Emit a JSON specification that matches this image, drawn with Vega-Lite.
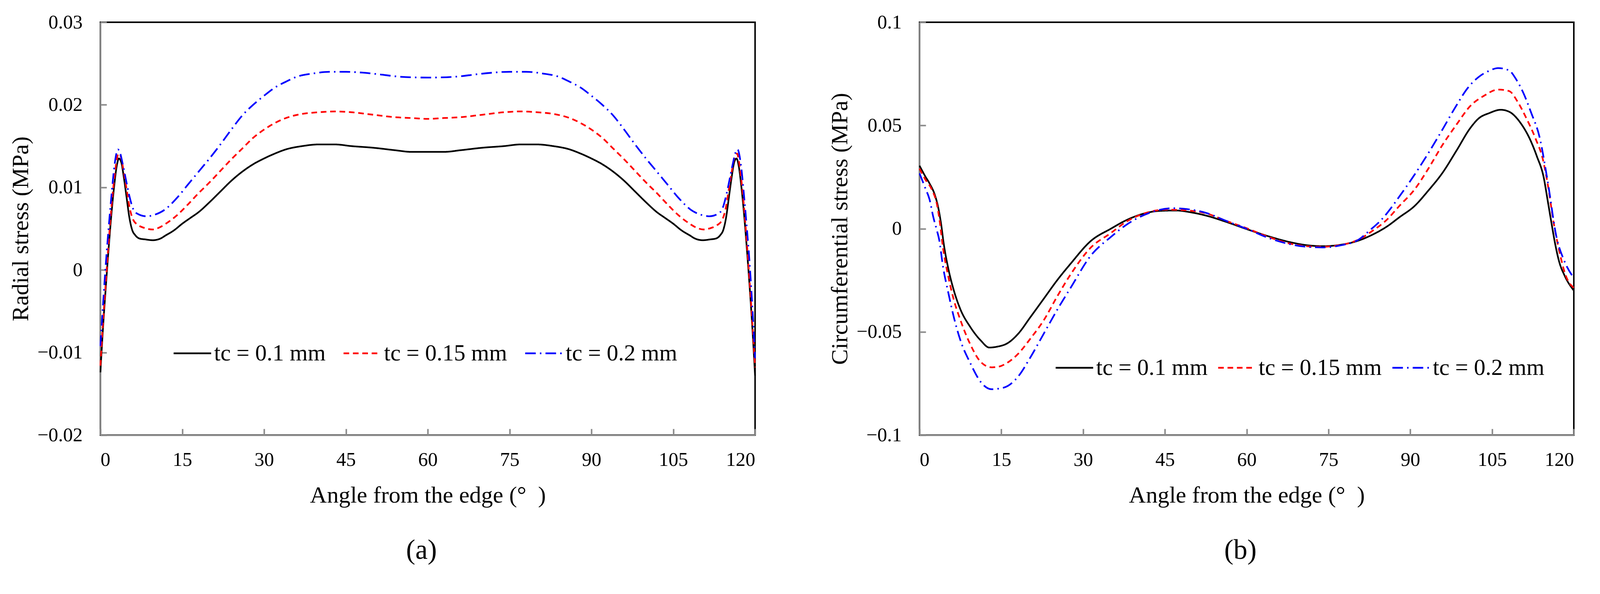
{
  "$schema": "https://vega.github.io/schema/vega-lite/v6.json",
  "background": "white",
  "padding": {"left": 21, "top": 30, "right": 30, "bottom": 19},
  "bounds": "flush",
  "spacing": 421,
  "config": {
    "font": "Liberation Serif",
    "view": {"stroke": "black", "strokeWidth": 3.85},
    "axis": {
      "grid": false,
      "domainColor": "#898989",
      "domainWidth": 3.85,
      "tickColor": "#898989",
      "tickWidth": 3.85,
      "tickSize": -16,
      "labelFont": "Liberation Serif",
      "labelFontSize": 50,
      "labelColor": "black",
      "titleFont": "Liberation Serif",
      "titleFontSize": 60,
      "titleFontWeight": "normal",
      "titleColor": "black"
    },
    "axisX": {"labelPadding": 54, "titlePadding": 37},
    "axisY": {"labelPadding": 62, "titlePadding": 11},
    "legend": {
      "orient": "none",
      "direction": "horizontal",
      "title": null,
      "padding": 0,
      "symbolType": "stroke",
      "symbolSize": 9216,
      "symbolStrokeWidth": 4.3,
      "labelFont": "Liberation Serif",
      "labelFontSize": 59,
      "labelColor": "black",
      "labelOffset": 5,
      "labelLimit": 1000
    },
    "title": {"font": "Liberation Serif", "fontSize": 71, "fontWeight": "normal", "color": "black"}
  },
  "datasets": {
    "radial": [
      {"tc": "tc = 0.1 mm", "angle": 0, "stress": -0.0124},
      {"tc": "tc = 0.1 mm", "angle": 0.5, "stress": -0.0068},
      {"tc": "tc = 0.1 mm", "angle": 1, "stress": -0.002},
      {"tc": "tc = 0.1 mm", "angle": 1.5, "stress": 0.0025},
      {"tc": "tc = 0.1 mm", "angle": 2, "stress": 0.0066},
      {"tc": "tc = 0.1 mm", "angle": 2.5, "stress": 0.01},
      {"tc": "tc = 0.1 mm", "angle": 3, "stress": 0.0126},
      {"tc": "tc = 0.1 mm", "angle": 3.4, "stress": 0.0135},
      {"tc": "tc = 0.1 mm", "angle": 3.8, "stress": 0.0131},
      {"tc": "tc = 0.1 mm", "angle": 4.3, "stress": 0.0112},
      {"tc": "tc = 0.1 mm", "angle": 4.8, "stress": 0.0088},
      {"tc": "tc = 0.1 mm", "angle": 5.3, "stress": 0.0064},
      {"tc": "tc = 0.1 mm", "angle": 5.8, "stress": 0.0049},
      {"tc": "tc = 0.1 mm", "angle": 6.4, "stress": 0.0042},
      {"tc": "tc = 0.1 mm", "angle": 7.2, "stress": 0.0038},
      {"tc": "tc = 0.1 mm", "angle": 8.2, "stress": 0.0037},
      {"tc": "tc = 0.1 mm", "angle": 9.6, "stress": 0.0036},
      {"tc": "tc = 0.1 mm", "angle": 11, "stress": 0.0038},
      {"tc": "tc = 0.1 mm", "angle": 12, "stress": 0.0042},
      {"tc": "tc = 0.1 mm", "angle": 13.5, "stress": 0.0048},
      {"tc": "tc = 0.1 mm", "angle": 15, "stress": 0.0056},
      {"tc": "tc = 0.1 mm", "angle": 16.5, "stress": 0.0063},
      {"tc": "tc = 0.1 mm", "angle": 18, "stress": 0.007},
      {"tc": "tc = 0.1 mm", "angle": 20, "stress": 0.0082},
      {"tc": "tc = 0.1 mm", "angle": 22, "stress": 0.0095},
      {"tc": "tc = 0.1 mm", "angle": 24, "stress": 0.0108},
      {"tc": "tc = 0.1 mm", "angle": 26, "stress": 0.0119},
      {"tc": "tc = 0.1 mm", "angle": 28, "stress": 0.0128},
      {"tc": "tc = 0.1 mm", "angle": 30, "stress": 0.0135},
      {"tc": "tc = 0.1 mm", "angle": 32, "stress": 0.0141},
      {"tc": "tc = 0.1 mm", "angle": 34, "stress": 0.0146},
      {"tc": "tc = 0.1 mm", "angle": 37, "stress": 0.015},
      {"tc": "tc = 0.1 mm", "angle": 40, "stress": 0.0152},
      {"tc": "tc = 0.1 mm", "angle": 43, "stress": 0.0152},
      {"tc": "tc = 0.1 mm", "angle": 46, "stress": 0.015},
      {"tc": "tc = 0.1 mm", "angle": 50, "stress": 0.0148},
      {"tc": "tc = 0.1 mm", "angle": 54, "stress": 0.0145},
      {"tc": "tc = 0.1 mm", "angle": 57, "stress": 0.0143},
      {"tc": "tc = 0.1 mm", "angle": 60, "stress": 0.0143},
      {"tc": "tc = 0.1 mm", "angle": 63, "stress": 0.0143},
      {"tc": "tc = 0.1 mm", "angle": 66, "stress": 0.0145},
      {"tc": "tc = 0.1 mm", "angle": 70, "stress": 0.0148},
      {"tc": "tc = 0.1 mm", "angle": 74, "stress": 0.015},
      {"tc": "tc = 0.1 mm", "angle": 77, "stress": 0.0152},
      {"tc": "tc = 0.1 mm", "angle": 80, "stress": 0.0152},
      {"tc": "tc = 0.1 mm", "angle": 83, "stress": 0.015},
      {"tc": "tc = 0.1 mm", "angle": 86, "stress": 0.0146},
      {"tc": "tc = 0.1 mm", "angle": 88, "stress": 0.0141},
      {"tc": "tc = 0.1 mm", "angle": 90, "stress": 0.0135},
      {"tc": "tc = 0.1 mm", "angle": 92, "stress": 0.0128},
      {"tc": "tc = 0.1 mm", "angle": 94, "stress": 0.0119},
      {"tc": "tc = 0.1 mm", "angle": 96, "stress": 0.0108},
      {"tc": "tc = 0.1 mm", "angle": 98, "stress": 0.0095},
      {"tc": "tc = 0.1 mm", "angle": 100, "stress": 0.0082},
      {"tc": "tc = 0.1 mm", "angle": 102, "stress": 0.007},
      {"tc": "tc = 0.1 mm", "angle": 103.5, "stress": 0.0063},
      {"tc": "tc = 0.1 mm", "angle": 105, "stress": 0.0056},
      {"tc": "tc = 0.1 mm", "angle": 106.5, "stress": 0.0048},
      {"tc": "tc = 0.1 mm", "angle": 108, "stress": 0.0042},
      {"tc": "tc = 0.1 mm", "angle": 109, "stress": 0.0038},
      {"tc": "tc = 0.1 mm", "angle": 110.4, "stress": 0.0036},
      {"tc": "tc = 0.1 mm", "angle": 111.8, "stress": 0.0037},
      {"tc": "tc = 0.1 mm", "angle": 112.8, "stress": 0.0038},
      {"tc": "tc = 0.1 mm", "angle": 113.6, "stress": 0.0042},
      {"tc": "tc = 0.1 mm", "angle": 114.2, "stress": 0.0049},
      {"tc": "tc = 0.1 mm", "angle": 114.7, "stress": 0.0064},
      {"tc": "tc = 0.1 mm", "angle": 115.2, "stress": 0.0088},
      {"tc": "tc = 0.1 mm", "angle": 115.7, "stress": 0.0112},
      {"tc": "tc = 0.1 mm", "angle": 116.2, "stress": 0.0131},
      {"tc": "tc = 0.1 mm", "angle": 116.6, "stress": 0.0135},
      {"tc": "tc = 0.1 mm", "angle": 117, "stress": 0.0126},
      {"tc": "tc = 0.1 mm", "angle": 117.5, "stress": 0.01},
      {"tc": "tc = 0.1 mm", "angle": 118, "stress": 0.0066},
      {"tc": "tc = 0.1 mm", "angle": 118.5, "stress": 0.0025},
      {"tc": "tc = 0.1 mm", "angle": 119, "stress": -0.002},
      {"tc": "tc = 0.1 mm", "angle": 119.5, "stress": -0.007},
      {"tc": "tc = 0.1 mm", "angle": 120, "stress": -0.0128},
      {"tc": "tc = 0.15 mm", "angle": 0, "stress": -0.0116},
      {"tc": "tc = 0.15 mm", "angle": 0.5, "stress": -0.0062},
      {"tc": "tc = 0.15 mm", "angle": 1, "stress": -0.0014},
      {"tc": "tc = 0.15 mm", "angle": 1.5, "stress": 0.0032},
      {"tc": "tc = 0.15 mm", "angle": 2, "stress": 0.0074},
      {"tc": "tc = 0.15 mm", "angle": 2.5, "stress": 0.0108},
      {"tc": "tc = 0.15 mm", "angle": 3, "stress": 0.0133},
      {"tc": "tc = 0.15 mm", "angle": 3.3, "stress": 0.0141},
      {"tc": "tc = 0.15 mm", "angle": 3.7, "stress": 0.0138},
      {"tc": "tc = 0.15 mm", "angle": 4.2, "stress": 0.0122},
      {"tc": "tc = 0.15 mm", "angle": 4.8, "stress": 0.0098},
      {"tc": "tc = 0.15 mm", "angle": 5.4, "stress": 0.0074},
      {"tc": "tc = 0.15 mm", "angle": 6, "stress": 0.0061},
      {"tc": "tc = 0.15 mm", "angle": 7, "stress": 0.0054},
      {"tc": "tc = 0.15 mm", "angle": 8, "stress": 0.0051},
      {"tc": "tc = 0.15 mm", "angle": 9.5, "stress": 0.0049},
      {"tc": "tc = 0.15 mm", "angle": 11, "stress": 0.0052},
      {"tc": "tc = 0.15 mm", "angle": 12, "stress": 0.0056},
      {"tc": "tc = 0.15 mm", "angle": 14, "stress": 0.0066},
      {"tc": "tc = 0.15 mm", "angle": 16, "stress": 0.0079},
      {"tc": "tc = 0.15 mm", "angle": 18, "stress": 0.0093},
      {"tc": "tc = 0.15 mm", "angle": 20, "stress": 0.0106},
      {"tc": "tc = 0.15 mm", "angle": 22, "stress": 0.012},
      {"tc": "tc = 0.15 mm", "angle": 24, "stress": 0.0134},
      {"tc": "tc = 0.15 mm", "angle": 26, "stress": 0.0147},
      {"tc": "tc = 0.15 mm", "angle": 28, "stress": 0.016},
      {"tc": "tc = 0.15 mm", "angle": 30, "stress": 0.017},
      {"tc": "tc = 0.15 mm", "angle": 32, "stress": 0.0178},
      {"tc": "tc = 0.15 mm", "angle": 34, "stress": 0.0184},
      {"tc": "tc = 0.15 mm", "angle": 37, "stress": 0.0189},
      {"tc": "tc = 0.15 mm", "angle": 40, "stress": 0.0191},
      {"tc": "tc = 0.15 mm", "angle": 43, "stress": 0.0192},
      {"tc": "tc = 0.15 mm", "angle": 46, "stress": 0.0191},
      {"tc": "tc = 0.15 mm", "angle": 50, "stress": 0.0188},
      {"tc": "tc = 0.15 mm", "angle": 54, "stress": 0.0185},
      {"tc": "tc = 0.15 mm", "angle": 57, "stress": 0.0184},
      {"tc": "tc = 0.15 mm", "angle": 60, "stress": 0.0183},
      {"tc": "tc = 0.15 mm", "angle": 63, "stress": 0.0184},
      {"tc": "tc = 0.15 mm", "angle": 66, "stress": 0.0185},
      {"tc": "tc = 0.15 mm", "angle": 70, "stress": 0.0188},
      {"tc": "tc = 0.15 mm", "angle": 74, "stress": 0.0191},
      {"tc": "tc = 0.15 mm", "angle": 77, "stress": 0.0192},
      {"tc": "tc = 0.15 mm", "angle": 80, "stress": 0.0191},
      {"tc": "tc = 0.15 mm", "angle": 83, "stress": 0.0189},
      {"tc": "tc = 0.15 mm", "angle": 86, "stress": 0.0184},
      {"tc": "tc = 0.15 mm", "angle": 88, "stress": 0.0178},
      {"tc": "tc = 0.15 mm", "angle": 90, "stress": 0.017},
      {"tc": "tc = 0.15 mm", "angle": 92, "stress": 0.016},
      {"tc": "tc = 0.15 mm", "angle": 94, "stress": 0.0147},
      {"tc": "tc = 0.15 mm", "angle": 96, "stress": 0.0134},
      {"tc": "tc = 0.15 mm", "angle": 98, "stress": 0.012},
      {"tc": "tc = 0.15 mm", "angle": 100, "stress": 0.0106},
      {"tc": "tc = 0.15 mm", "angle": 102, "stress": 0.0093},
      {"tc": "tc = 0.15 mm", "angle": 104, "stress": 0.0079},
      {"tc": "tc = 0.15 mm", "angle": 106, "stress": 0.0066},
      {"tc": "tc = 0.15 mm", "angle": 108, "stress": 0.0056},
      {"tc": "tc = 0.15 mm", "angle": 109, "stress": 0.0052},
      {"tc": "tc = 0.15 mm", "angle": 110.5, "stress": 0.0049},
      {"tc": "tc = 0.15 mm", "angle": 112, "stress": 0.0051},
      {"tc": "tc = 0.15 mm", "angle": 113, "stress": 0.0054},
      {"tc": "tc = 0.15 mm", "angle": 114, "stress": 0.0061},
      {"tc": "tc = 0.15 mm", "angle": 114.6, "stress": 0.0074},
      {"tc": "tc = 0.15 mm", "angle": 115.2, "stress": 0.0098},
      {"tc": "tc = 0.15 mm", "angle": 115.8, "stress": 0.0122},
      {"tc": "tc = 0.15 mm", "angle": 116.3, "stress": 0.0138},
      {"tc": "tc = 0.15 mm", "angle": 116.7, "stress": 0.0141},
      {"tc": "tc = 0.15 mm", "angle": 117, "stress": 0.0133},
      {"tc": "tc = 0.15 mm", "angle": 117.5, "stress": 0.0108},
      {"tc": "tc = 0.15 mm", "angle": 118, "stress": 0.0074},
      {"tc": "tc = 0.15 mm", "angle": 118.5, "stress": 0.0032},
      {"tc": "tc = 0.15 mm", "angle": 119, "stress": -0.0014},
      {"tc": "tc = 0.15 mm", "angle": 119.5, "stress": -0.0064},
      {"tc": "tc = 0.15 mm", "angle": 120, "stress": -0.0118},
      {"tc": "tc = 0.2 mm", "angle": 0, "stress": -0.0092},
      {"tc": "tc = 0.2 mm", "angle": 0.5, "stress": -0.004},
      {"tc": "tc = 0.2 mm", "angle": 1, "stress": 0.0008},
      {"tc": "tc = 0.2 mm", "angle": 1.5, "stress": 0.005},
      {"tc": "tc = 0.2 mm", "angle": 2, "stress": 0.0088},
      {"tc": "tc = 0.2 mm", "angle": 2.5, "stress": 0.0122},
      {"tc": "tc = 0.2 mm", "angle": 2.9, "stress": 0.014},
      {"tc": "tc = 0.2 mm", "angle": 3.2, "stress": 0.0146},
      {"tc": "tc = 0.2 mm", "angle": 3.6, "stress": 0.0142},
      {"tc": "tc = 0.2 mm", "angle": 4.1, "stress": 0.0128},
      {"tc": "tc = 0.2 mm", "angle": 4.6, "stress": 0.0112},
      {"tc": "tc = 0.2 mm", "angle": 5.3, "stress": 0.009},
      {"tc": "tc = 0.2 mm", "angle": 6, "stress": 0.0074},
      {"tc": "tc = 0.2 mm", "angle": 6.8, "stress": 0.0068},
      {"tc": "tc = 0.2 mm", "angle": 8.4, "stress": 0.0065},
      {"tc": "tc = 0.2 mm", "angle": 10, "stress": 0.0067},
      {"tc": "tc = 0.2 mm", "angle": 11.8, "stress": 0.0073},
      {"tc": "tc = 0.2 mm", "angle": 14, "stress": 0.0087},
      {"tc": "tc = 0.2 mm", "angle": 16, "stress": 0.0103},
      {"tc": "tc = 0.2 mm", "angle": 18, "stress": 0.0119},
      {"tc": "tc = 0.2 mm", "angle": 20, "stress": 0.0135},
      {"tc": "tc = 0.2 mm", "angle": 22, "stress": 0.0152},
      {"tc": "tc = 0.2 mm", "angle": 24, "stress": 0.017},
      {"tc": "tc = 0.2 mm", "angle": 26, "stress": 0.0187},
      {"tc": "tc = 0.2 mm", "angle": 28, "stress": 0.02},
      {"tc": "tc = 0.2 mm", "angle": 30, "stress": 0.0211},
      {"tc": "tc = 0.2 mm", "angle": 32, "stress": 0.0221},
      {"tc": "tc = 0.2 mm", "angle": 34, "stress": 0.0228},
      {"tc": "tc = 0.2 mm", "angle": 36, "stress": 0.0234},
      {"tc": "tc = 0.2 mm", "angle": 39, "stress": 0.0238},
      {"tc": "tc = 0.2 mm", "angle": 42, "stress": 0.024},
      {"tc": "tc = 0.2 mm", "angle": 45, "stress": 0.024},
      {"tc": "tc = 0.2 mm", "angle": 48, "stress": 0.0239},
      {"tc": "tc = 0.2 mm", "angle": 51, "stress": 0.0237},
      {"tc": "tc = 0.2 mm", "angle": 55, "stress": 0.0234},
      {"tc": "tc = 0.2 mm", "angle": 60, "stress": 0.0233},
      {"tc": "tc = 0.2 mm", "angle": 65, "stress": 0.0234},
      {"tc": "tc = 0.2 mm", "angle": 69, "stress": 0.0237},
      {"tc": "tc = 0.2 mm", "angle": 72, "stress": 0.0239},
      {"tc": "tc = 0.2 mm", "angle": 75, "stress": 0.024},
      {"tc": "tc = 0.2 mm", "angle": 78, "stress": 0.024},
      {"tc": "tc = 0.2 mm", "angle": 81, "stress": 0.0238},
      {"tc": "tc = 0.2 mm", "angle": 84, "stress": 0.0234},
      {"tc": "tc = 0.2 mm", "angle": 86, "stress": 0.0228},
      {"tc": "tc = 0.2 mm", "angle": 88, "stress": 0.0221},
      {"tc": "tc = 0.2 mm", "angle": 90, "stress": 0.0211},
      {"tc": "tc = 0.2 mm", "angle": 92, "stress": 0.02},
      {"tc": "tc = 0.2 mm", "angle": 94, "stress": 0.0187},
      {"tc": "tc = 0.2 mm", "angle": 96, "stress": 0.017},
      {"tc": "tc = 0.2 mm", "angle": 98, "stress": 0.0152},
      {"tc": "tc = 0.2 mm", "angle": 100, "stress": 0.0135},
      {"tc": "tc = 0.2 mm", "angle": 102, "stress": 0.0119},
      {"tc": "tc = 0.2 mm", "angle": 104, "stress": 0.0103},
      {"tc": "tc = 0.2 mm", "angle": 106, "stress": 0.0087},
      {"tc": "tc = 0.2 mm", "angle": 108.2, "stress": 0.0073},
      {"tc": "tc = 0.2 mm", "angle": 110, "stress": 0.0067},
      {"tc": "tc = 0.2 mm", "angle": 111.6, "stress": 0.0065},
      {"tc": "tc = 0.2 mm", "angle": 113.2, "stress": 0.0068},
      {"tc": "tc = 0.2 mm", "angle": 114, "stress": 0.0074},
      {"tc": "tc = 0.2 mm", "angle": 114.7, "stress": 0.009},
      {"tc": "tc = 0.2 mm", "angle": 115.4, "stress": 0.0112},
      {"tc": "tc = 0.2 mm", "angle": 115.9, "stress": 0.0128},
      {"tc": "tc = 0.2 mm", "angle": 116.4, "stress": 0.0142},
      {"tc": "tc = 0.2 mm", "angle": 116.8, "stress": 0.0146},
      {"tc": "tc = 0.2 mm", "angle": 117.1, "stress": 0.014},
      {"tc": "tc = 0.2 mm", "angle": 117.5, "stress": 0.0122},
      {"tc": "tc = 0.2 mm", "angle": 118, "stress": 0.0088},
      {"tc": "tc = 0.2 mm", "angle": 118.5, "stress": 0.005},
      {"tc": "tc = 0.2 mm", "angle": 119, "stress": 0.0008},
      {"tc": "tc = 0.2 mm", "angle": 119.5, "stress": -0.0045},
      {"tc": "tc = 0.2 mm", "angle": 120, "stress": -0.0107}
    ],
    "circ": [
      {"tc": "tc = 0.1 mm", "angle": 0, "stress": 0.0305},
      {"tc": "tc = 0.1 mm", "angle": 1, "stress": 0.0256},
      {"tc": "tc = 0.1 mm", "angle": 1.9, "stress": 0.0216},
      {"tc": "tc = 0.1 mm", "angle": 2.8, "stress": 0.0164},
      {"tc": "tc = 0.1 mm", "angle": 3.4, "stress": 0.0106},
      {"tc": "tc = 0.1 mm", "angle": 4, "stress": 0.0015},
      {"tc": "tc = 0.1 mm", "angle": 4.4, "stress": -0.0066},
      {"tc": "tc = 0.1 mm", "angle": 5.3, "stress": -0.0196},
      {"tc": "tc = 0.1 mm", "angle": 6.3, "stress": -0.03},
      {"tc": "tc = 0.1 mm", "angle": 7.5, "stress": -0.0391},
      {"tc": "tc = 0.1 mm", "angle": 9.3, "stress": -0.0476},
      {"tc": "tc = 0.1 mm", "angle": 11.2, "stress": -0.0541},
      {"tc": "tc = 0.1 mm", "angle": 12.8, "stress": -0.0576},
      {"tc": "tc = 0.1 mm", "angle": 14.2, "stress": -0.0572},
      {"tc": "tc = 0.1 mm", "angle": 16.2, "stress": -0.0554},
      {"tc": "tc = 0.1 mm", "angle": 18.1, "stress": -0.0509},
      {"tc": "tc = 0.1 mm", "angle": 20.3, "stress": -0.043},
      {"tc": "tc = 0.1 mm", "angle": 22.8, "stress": -0.0339},
      {"tc": "tc = 0.1 mm", "angle": 25.3, "stress": -0.0248},
      {"tc": "tc = 0.1 mm", "angle": 27.7, "stress": -0.017},
      {"tc": "tc = 0.1 mm", "angle": 31.4, "stress": -0.006},
      {"tc": "tc = 0.1 mm", "angle": 35.1, "stress": 0},
      {"tc": "tc = 0.1 mm", "angle": 38, "stress": 0.0042},
      {"tc": "tc = 0.1 mm", "angle": 41, "stress": 0.0072},
      {"tc": "tc = 0.1 mm", "angle": 44, "stress": 0.0086},
      {"tc": "tc = 0.1 mm", "angle": 47, "stress": 0.0088},
      {"tc": "tc = 0.1 mm", "angle": 50, "stress": 0.0078},
      {"tc": "tc = 0.1 mm", "angle": 52.6, "stress": 0.0063},
      {"tc": "tc = 0.1 mm", "angle": 56, "stress": 0.0035},
      {"tc": "tc = 0.1 mm", "angle": 60.2, "stress": -0.0004},
      {"tc": "tc = 0.1 mm", "angle": 64, "stress": -0.0037},
      {"tc": "tc = 0.1 mm", "angle": 67.9, "stress": -0.0065},
      {"tc": "tc = 0.1 mm", "angle": 71, "stress": -0.008},
      {"tc": "tc = 0.1 mm", "angle": 74, "stress": -0.0085},
      {"tc": "tc = 0.1 mm", "angle": 77, "stress": -0.0079},
      {"tc": "tc = 0.1 mm", "angle": 80.6, "stress": -0.0057},
      {"tc": "tc = 0.1 mm", "angle": 83, "stress": -0.003},
      {"tc": "tc = 0.1 mm", "angle": 85.7, "stress": 0.001},
      {"tc": "tc = 0.1 mm", "angle": 88, "stress": 0.0055},
      {"tc": "tc = 0.1 mm", "angle": 90.8, "stress": 0.011},
      {"tc": "tc = 0.1 mm", "angle": 93.3, "stress": 0.0184},
      {"tc": "tc = 0.1 mm", "angle": 95.9, "stress": 0.027},
      {"tc": "tc = 0.1 mm", "angle": 98.5, "stress": 0.0379},
      {"tc": "tc = 0.1 mm", "angle": 101, "stress": 0.0487},
      {"tc": "tc = 0.1 mm", "angle": 102.5, "stress": 0.0533},
      {"tc": "tc = 0.1 mm", "angle": 104.5, "stress": 0.056},
      {"tc": "tc = 0.1 mm", "angle": 106.6, "stress": 0.0576},
      {"tc": "tc = 0.1 mm", "angle": 108.1, "stress": 0.0567},
      {"tc": "tc = 0.1 mm", "angle": 110.2, "stress": 0.0513},
      {"tc": "tc = 0.1 mm", "angle": 112.2, "stress": 0.0419},
      {"tc": "tc = 0.1 mm", "angle": 113.2, "stress": 0.0352},
      {"tc": "tc = 0.1 mm", "angle": 114.5, "stress": 0.0245},
      {"tc": "tc = 0.1 mm", "angle": 115.2, "stress": 0.0137},
      {"tc": "tc = 0.1 mm", "angle": 115.8, "stress": 0.0043},
      {"tc": "tc = 0.1 mm", "angle": 116.6, "stress": -0.0077},
      {"tc": "tc = 0.1 mm", "angle": 117.3, "stress": -0.0159},
      {"tc": "tc = 0.1 mm", "angle": 118.3, "stress": -0.0227},
      {"tc": "tc = 0.1 mm", "angle": 120, "stress": -0.03},
      {"tc": "tc = 0.15 mm", "angle": 0, "stress": 0.0291},
      {"tc": "tc = 0.15 mm", "angle": 1, "stress": 0.0241},
      {"tc": "tc = 0.15 mm", "angle": 2.3, "stress": 0.0187},
      {"tc": "tc = 0.15 mm", "angle": 3.2, "stress": 0.0117},
      {"tc": "tc = 0.15 mm", "angle": 3.7, "stress": 0.0036},
      {"tc": "tc = 0.15 mm", "angle": 4.3, "stress": -0.0092},
      {"tc": "tc = 0.15 mm", "angle": 5.3, "stress": -0.0235},
      {"tc": "tc = 0.15 mm", "angle": 6.3, "stress": -0.0346},
      {"tc": "tc = 0.15 mm", "angle": 7.5, "stress": -0.0443},
      {"tc": "tc = 0.15 mm", "angle": 9.3, "stress": -0.056},
      {"tc": "tc = 0.15 mm", "angle": 11.2, "stress": -0.0645},
      {"tc": "tc = 0.15 mm", "angle": 13.2, "stress": -0.0672},
      {"tc": "tc = 0.15 mm", "angle": 14.6, "stress": -0.0668},
      {"tc": "tc = 0.15 mm", "angle": 16.2, "stress": -0.0648},
      {"tc": "tc = 0.15 mm", "angle": 18.1, "stress": -0.0606},
      {"tc": "tc = 0.15 mm", "angle": 20.3, "stress": -0.0534},
      {"tc": "tc = 0.15 mm", "angle": 22.8, "stress": -0.0443},
      {"tc": "tc = 0.15 mm", "angle": 25.3, "stress": -0.0326},
      {"tc": "tc = 0.15 mm", "angle": 27.7, "stress": -0.0222},
      {"tc": "tc = 0.15 mm", "angle": 31.4, "stress": -0.0092},
      {"tc": "tc = 0.15 mm", "angle": 35.1, "stress": -0.0021},
      {"tc": "tc = 0.15 mm", "angle": 38, "stress": 0.0035},
      {"tc": "tc = 0.15 mm", "angle": 42, "stress": 0.008},
      {"tc": "tc = 0.15 mm", "angle": 45, "stress": 0.0092},
      {"tc": "tc = 0.15 mm", "angle": 48, "stress": 0.009},
      {"tc": "tc = 0.15 mm", "angle": 52.6, "stress": 0.0074},
      {"tc": "tc = 0.15 mm", "angle": 56, "stress": 0.004},
      {"tc": "tc = 0.15 mm", "angle": 60.2, "stress": 0},
      {"tc": "tc = 0.15 mm", "angle": 64, "stress": -0.004},
      {"tc": "tc = 0.15 mm", "angle": 67.9, "stress": -0.0072},
      {"tc": "tc = 0.15 mm", "angle": 71, "stress": -0.0085},
      {"tc": "tc = 0.15 mm", "angle": 73.5, "stress": -0.0088},
      {"tc": "tc = 0.15 mm", "angle": 77, "stress": -0.008},
      {"tc": "tc = 0.15 mm", "angle": 80.6, "stress": -0.0052},
      {"tc": "tc = 0.15 mm", "angle": 83, "stress": -0.0012},
      {"tc": "tc = 0.15 mm", "angle": 85.7, "stress": 0.0043},
      {"tc": "tc = 0.15 mm", "angle": 88, "stress": 0.011},
      {"tc": "tc = 0.15 mm", "angle": 90.8, "stress": 0.019},
      {"tc": "tc = 0.15 mm", "angle": 93.3, "stress": 0.029},
      {"tc": "tc = 0.15 mm", "angle": 95.9, "stress": 0.0405},
      {"tc": "tc = 0.15 mm", "angle": 98.5, "stress": 0.0505},
      {"tc": "tc = 0.15 mm", "angle": 101, "stress": 0.0594},
      {"tc": "tc = 0.15 mm", "angle": 103.6, "stress": 0.0645},
      {"tc": "tc = 0.15 mm", "angle": 106.1, "stress": 0.0674},
      {"tc": "tc = 0.15 mm", "angle": 108.1, "stress": 0.0667},
      {"tc": "tc = 0.15 mm", "angle": 109.8, "stress": 0.061},
      {"tc": "tc = 0.15 mm", "angle": 111.2, "stress": 0.054},
      {"tc": "tc = 0.15 mm", "angle": 113, "stress": 0.0435},
      {"tc": "tc = 0.15 mm", "angle": 114.3, "stress": 0.0338},
      {"tc": "tc = 0.15 mm", "angle": 115.2, "stress": 0.0217},
      {"tc": "tc = 0.15 mm", "angle": 116.3, "stress": 0.0029},
      {"tc": "tc = 0.15 mm", "angle": 117.3, "stress": -0.0105},
      {"tc": "tc = 0.15 mm", "angle": 118.5, "stress": -0.0226},
      {"tc": "tc = 0.15 mm", "angle": 120, "stress": -0.0287},
      {"tc": "tc = 0.2 mm", "angle": 0, "stress": 0.0268},
      {"tc": "tc = 0.2 mm", "angle": 1, "stress": 0.02},
      {"tc": "tc = 0.2 mm", "angle": 1.9, "stress": 0.0135},
      {"tc": "tc = 0.2 mm", "angle": 2.5, "stress": 0.0059},
      {"tc": "tc = 0.2 mm", "angle": 3.2, "stress": -0.001},
      {"tc": "tc = 0.2 mm", "angle": 3.6, "stress": -0.0053},
      {"tc": "tc = 0.2 mm", "angle": 4.3, "stress": -0.0183},
      {"tc": "tc = 0.2 mm", "angle": 5.3, "stress": -0.0313},
      {"tc": "tc = 0.2 mm", "angle": 6.3, "stress": -0.043},
      {"tc": "tc = 0.2 mm", "angle": 7.5, "stress": -0.0541},
      {"tc": "tc = 0.2 mm", "angle": 9.3, "stress": -0.0651},
      {"tc": "tc = 0.2 mm", "angle": 11.2, "stress": -0.0742},
      {"tc": "tc = 0.2 mm", "angle": 13.2, "stress": -0.0778},
      {"tc": "tc = 0.2 mm", "angle": 14.6, "stress": -0.0775},
      {"tc": "tc = 0.2 mm", "angle": 16.2, "stress": -0.0762},
      {"tc": "tc = 0.2 mm", "angle": 18.1, "stress": -0.0716},
      {"tc": "tc = 0.2 mm", "angle": 20.3, "stress": -0.0625},
      {"tc": "tc = 0.2 mm", "angle": 22.8, "stress": -0.0508},
      {"tc": "tc = 0.2 mm", "angle": 25.3, "stress": -0.0391},
      {"tc": "tc = 0.2 mm", "angle": 27.7, "stress": -0.0287},
      {"tc": "tc = 0.2 mm", "angle": 31.4, "stress": -0.0131},
      {"tc": "tc = 0.2 mm", "angle": 35.1, "stress": -0.004},
      {"tc": "tc = 0.2 mm", "angle": 38, "stress": 0.002},
      {"tc": "tc = 0.2 mm", "angle": 42, "stress": 0.0075},
      {"tc": "tc = 0.2 mm", "angle": 46.5, "stress": 0.0099},
      {"tc": "tc = 0.2 mm", "angle": 49, "stress": 0.0095},
      {"tc": "tc = 0.2 mm", "angle": 52.6, "stress": 0.0076},
      {"tc": "tc = 0.2 mm", "angle": 56, "stress": 0.004},
      {"tc": "tc = 0.2 mm", "angle": 60.2, "stress": -0.0003},
      {"tc": "tc = 0.2 mm", "angle": 64, "stress": -0.0045},
      {"tc": "tc = 0.2 mm", "angle": 67.9, "stress": -0.0075},
      {"tc": "tc = 0.2 mm", "angle": 71, "stress": -0.0088},
      {"tc": "tc = 0.2 mm", "angle": 74, "stress": -0.0091},
      {"tc": "tc = 0.2 mm", "angle": 77, "stress": -0.0082},
      {"tc": "tc = 0.2 mm", "angle": 80.6, "stress": -0.0052},
      {"tc": "tc = 0.2 mm", "angle": 82.5, "stress": -0.001},
      {"tc": "tc = 0.2 mm", "angle": 84.7, "stress": 0.0043},
      {"tc": "tc = 0.2 mm", "angle": 88.2, "stress": 0.0163},
      {"tc": "tc = 0.2 mm", "angle": 90.8, "stress": 0.0262},
      {"tc": "tc = 0.2 mm", "angle": 93.3, "stress": 0.0365},
      {"tc": "tc = 0.2 mm", "angle": 95.9, "stress": 0.048},
      {"tc": "tc = 0.2 mm", "angle": 98.4, "stress": 0.0594},
      {"tc": "tc = 0.2 mm", "angle": 100.5, "stress": 0.068},
      {"tc": "tc = 0.2 mm", "angle": 102.5, "stress": 0.0734},
      {"tc": "tc = 0.2 mm", "angle": 104.5, "stress": 0.0765},
      {"tc": "tc = 0.2 mm", "angle": 106.1, "stress": 0.0778},
      {"tc": "tc = 0.2 mm", "angle": 108.1, "stress": 0.0767},
      {"tc": "tc = 0.2 mm", "angle": 109.5, "stress": 0.072},
      {"tc": "tc = 0.2 mm", "angle": 110.7, "stress": 0.066},
      {"tc": "tc = 0.2 mm", "angle": 112.2, "stress": 0.056},
      {"tc": "tc = 0.2 mm", "angle": 113.7, "stress": 0.0445},
      {"tc": "tc = 0.2 mm", "angle": 115.2, "stress": 0.023},
      {"tc": "tc = 0.2 mm", "angle": 116.8, "stress": -0.0038},
      {"tc": "tc = 0.2 mm", "angle": 118.3, "stress": -0.0159},
      {"tc": "tc = 0.2 mm", "angle": 120, "stress": -0.0239}
    ]
  },
  "hconcat": [
    {
      "width": 1676,
      "height": 1057,
      "data": {"name": "radial"},
      "title": {"text": "(a)", "orient": "bottom", "anchor": "middle", "frame": "group", "baseline": "top", "offset": 77, "dx": -16},
      "mark": {"type": "line", "strokeWidth": 4.3, "interpolate": "monotone", "strokeCap": "butt"},
      "encoding": {
        "x": {
          "field": "angle", "type": "quantitative",
          "scale": {"domain": [0, 120], "nice": false, "zero": false},
          "axis": {"values": [0, 15, 30, 45, 60, 75, 90, 105, 120], "title": "Angle from the edge (°\u00a0\u00a0)"}
        },
        "y": {
          "field": "stress", "type": "quantitative",
          "scale": {"domain": [-0.02, 0.03], "nice": false, "zero": false},
          "axis": {"values": [-0.02, -0.01, 0, 0.01, 0.02, 0.03], "format": "~g", "title": "Radial stress (MPa)"}
        },
        "color": {
          "field": "tc", "type": "nominal",
          "scale": {"domain": ["tc = 0.1 mm", "tc = 0.15 mm", "tc = 0.2 mm"], "range": ["#000000", "#ff0000", "#0000ff"]},
          "legend": {"legendX": 185, "legendY": 797, "columnPadding": 36}
        },
        "strokeDash": {
          "field": "tc", "type": "nominal",
          "scale": {"domain": ["tc = 0.1 mm", "tc = 0.15 mm", "tc = 0.2 mm"], "range": [[1, 0], [14.4, 9.6], [27, 10.6, 3.8, 10.6]]},
          "legend": {"legendX": 185, "legendY": 797, "columnPadding": 36}
        }
      }
    },
    {
      "width": 1675,
      "height": 1057,
      "data": {"name": "circ"},
      "title": {"text": "(b)", "orient": "bottom", "anchor": "middle", "frame": "group", "baseline": "top", "offset": 77, "dx": -16},
      "mark": {"type": "line", "strokeWidth": 4.3, "interpolate": "monotone", "strokeCap": "butt"},
      "encoding": {
        "x": {
          "field": "angle", "type": "quantitative",
          "scale": {"domain": [0, 120], "nice": false, "zero": false},
          "axis": {"values": [0, 15, 30, 45, 60, 75, 90, 105, 120], "title": "Angle from the edge (°\u00a0\u00a0)"}
        },
        "y": {
          "field": "stress", "type": "quantitative",
          "scale": {"domain": [-0.1, 0.1], "nice": false, "zero": false},
          "axis": {"values": [-0.1, -0.05, 0, 0.05, 0.1], "format": "~g", "title": "Circumferential stress (MPa)"}
        },
        "color": {
          "field": "tc", "type": "nominal",
          "scale": {"domain": ["tc = 0.1 mm", "tc = 0.15 mm", "tc = 0.2 mm"], "range": ["#000000", "#ff0000", "#0000ff"]},
          "legend": {"legendX": 346, "legendY": 834, "columnPadding": 17}
        },
        "strokeDash": {
          "field": "tc", "type": "nominal",
          "scale": {"domain": ["tc = 0.1 mm", "tc = 0.15 mm", "tc = 0.2 mm"], "range": [[1, 0], [14.4, 9.6], [27, 10.6, 3.8, 10.6]]},
          "legend": {"legendX": 346, "legendY": 834, "columnPadding": 17}
        }
      }
    }
  ],
  "resolve": {
    "scale": {"x": "independent", "y": "independent", "color": "independent", "strokeDash": "independent"},
    "legend": {"color": "independent", "strokeDash": "independent"}
  }
}
